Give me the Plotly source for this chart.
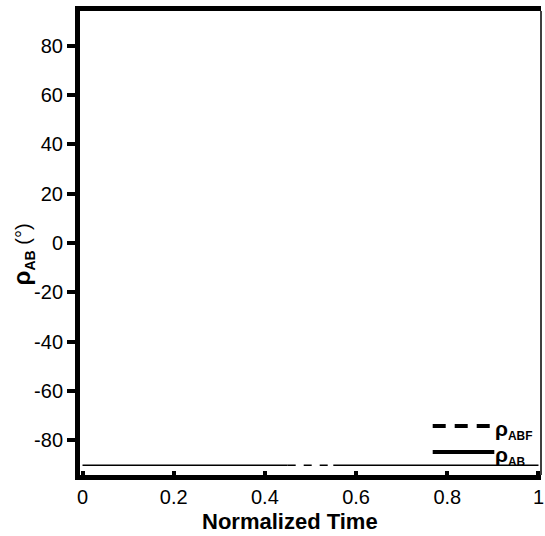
import plotly.graph_objects as go

# ---- data ----
time_ab = [0.0, 0.45, None, 0.55, 1.0]
rho_ab = [-90, -90, None, -90, -90]
time_abf = [0.45, 0.55]
rho_abf = [-90, -90]

y_ticks = [80, 60, 40, 20, 0, -20, -40, -60, -80]
y_tick_labels = ["80", "60", "40", "20", "0", "-20", "-40", "-60", "-80"]
x_ticks = [0, 0.2, 0.4, 0.6, 0.8, 1]
x_tick_labels = ["0", "0.2", "0.4", "0.6", "0.8", "1"]

FONT = "Arial, 'Liberation Sans', sans-serif"
W, H = 545, 536
L, R, T, B = 80, 1, 11, 61
PW, PH = W - L - R, H - T - B


def px2paper_x(px):
    return (px - L) / PW


def px2paper_y(py):
    return (H - B - py) / PH


fig = go.Figure()
fig.add_trace(go.Scatter(x=time_abf, y=rho_abf, mode="lines",
                         line=dict(color="black", width=1.5, dash="8px,8px"),
                         showlegend=False, connectgaps=False))
fig.add_trace(go.Scatter(x=time_ab, y=rho_ab, mode="lines",
                         line=dict(color="black", width=1.5),
                         showlegend=False, connectgaps=False))

shapes = []
# right border (thin)
shapes.append(dict(type="line", xref="paper", yref="paper", x0=1, x1=1, y0=0, y1=1,
                   line=dict(color="black", width=1.5)))
# legend samples
shapes.append(dict(type="line", xref="paper", yref="paper",
                   x0=px2paper_x(435), x1=px2paper_x(497),
                   y0=px2paper_y(426), y1=px2paper_y(426),
                   line=dict(color="black", width=4, dash="13px,9px")))
shapes.append(dict(type="line", xref="paper", yref="paper",
                   x0=px2paper_x(435), x1=px2paper_x(497),
                   y0=px2paper_y(452), y1=px2paper_y(452),
                   line=dict(color="black", width=4)))

annotations = [
    dict(text="<b><span style='font-size:21px'>ρ</span></b><sub><b>ABF</b></sub>", xref="paper", yref="paper",
         x=px2paper_x(496), y=px2paper_y(430), xanchor="left", yanchor="middle",
         showarrow=False, font=dict(family=FONT, size=17, color="black")),
    dict(text="<b><span style='font-size:21px'>ρ</span></b><sub><b>AB</b></sub>", xref="paper", yref="paper",
         x=px2paper_x(496), y=px2paper_y(456), xanchor="left", yanchor="middle",
         showarrow=False, font=dict(family=FONT, size=17, color="black")),
    dict(text="<b>Normalized Time</b>", xref="paper", yref="paper",
         x=px2paper_x(291), y=px2paper_y(521), xanchor="center", yanchor="middle",
         showarrow=False, font=dict(family=FONT, size=22, color="black")),
    dict(text="<b><span style='font-size:24px'>ρ</span></b><sub><b>AB</b></sub> (°)", xref="paper", yref="paper",
         x=px2paper_x(22), y=px2paper_y(254), xanchor="center", yanchor="middle",
         textangle=-90, showarrow=False, font=dict(family=FONT, size=20, color="black")),
]

fig.update_layout(
    width=W, height=H,
    margin=dict(l=L, r=R, t=T, b=B, pad=0),
    paper_bgcolor="white", plot_bgcolor="white",
    showlegend=False,
    shapes=shapes, annotations=annotations,
    font=dict(family=FONT, size=20, color="black"),
    xaxis=dict(range=[-0.0055, 1.0055], tickvals=x_ticks, ticktext=x_tick_labels,
               showgrid=False, zeroline=False, showline=True, linecolor="black",
               linewidth=5, mirror=True, ticks="inside", ticklen=4, tickwidth=4,
               tickcolor="black", ticklabeloverflow="allow",
               tickfont=dict(family=FONT, size=20, color="black")),
    yaxis=dict(range=[-94, 94], tickvals=y_ticks, ticktext=y_tick_labels,
               showgrid=False, zeroline=False, showline=True, linecolor="black",
               linewidth=5, ticks="outside", ticklen=8, tickwidth=4,
               tickcolor="black", tickfont=dict(family=FONT, size=20, color="black")),
)

fig.write_html("out.html")
